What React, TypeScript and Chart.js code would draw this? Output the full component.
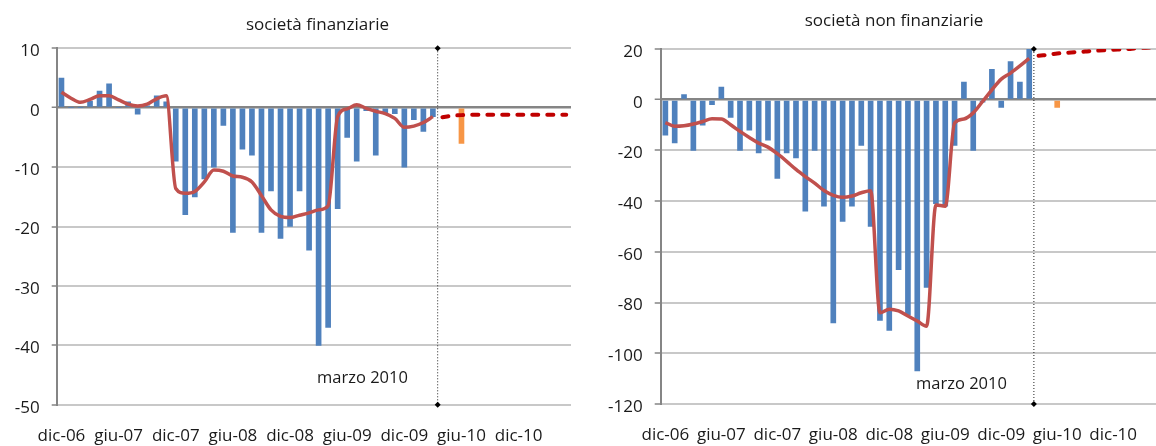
import React, { useEffect, useRef } from 'react';
import { Chart, registerables } from 'chart.js';

Chart.register(...registerables);

const FONT = '"Open Sans", "Noto Sans", sans-serif';

// ---------- categories (monthly, dic-06 .. mag-11) ----------
const months = [
  'dic-06',
  'gen-07', 'feb-07', 'mar-07', 'apr-07', 'mag-07', 'giu-07', 'lug-07', 'ago-07', 'set-07', 'ott-07', 'nov-07', 'dic-07',
  'gen-08', 'feb-08', 'mar-08', 'apr-08', 'mag-08', 'giu-08', 'lug-08', 'ago-08', 'set-08', 'ott-08', 'nov-08', 'dic-08',
  'gen-09', 'feb-09', 'mar-09', 'apr-09', 'mag-09', 'giu-09', 'lug-09', 'ago-09', 'set-09', 'ott-09', 'nov-09', 'dic-09',
  'gen-10', 'feb-10', 'mar-10', 'apr-10', 'mag-10', 'giu-10', 'lug-10', 'ago-10', 'set-10', 'ott-10', 'nov-10', 'dic-10',
  'gen-11', 'feb-11', 'mar-11', 'apr-11', 'mag-11',
];
const tickLabels = ['dic-06', 'giu-07', 'dic-07', 'giu-08', 'dic-08', 'giu-09', 'dic-09', 'giu-10', 'dic-10'];

const lastObservedMonth = 'mar-10';
const forecastStartMonth = 'apr-10';
const highlightMonth = 'giu-10';
const markerText = 'marzo 2010';

// ---------- società finanziarie ----------
const finTitle = 'società finanziarie';
const finBars = [
  5, 0, 0, 1.1, 2.8, 4, 0, 1, -1.1, 0.3, 2, 1,
  -9, -18, -15, -12, -10, -3, -21, -7, -8, -21, -14, -22,
  -20, -14, -24, -40, -37, -17, -5, -9, -0.5, -8, -1, -1,
  -10, -2, -4, -1.5,
];
const finAvg = [
  2.6, 1.6, 0.9, 1.4, 2.0, 2.0, 1.3, 0.6, 0.3, 0.6, 1.5, 2.0,
  -13.6, -14.4, -14.1, -12.5, -10.5, -10.7, -11.5, -11.7, -12.5, -14.8, -17.2, -18.3,
  -18.5, -18.1, -17.7, -17.2, -16.5, -1.5, -0.2, 0.5, -0.1, -0.6, -1.0, -1.8,
  -3.3, -3.1, -2.5, -1.5,
];
const finForecast = [-1.6, -1.35, -1.25, -1.2, -1.2, -1.2, -1.2, -1.2, -1.2, -1.2, -1.2, -1.2, -1.2, -1.2];
const finHighlight = -6;
const finYMin = -50;
const finYMax = 10;
const finYStep = 10;

// ---------- società non finanziarie ----------
const nfTitle = 'società non finanziarie';
const nfBars = [
  -14, -17, 2, -20, -10, -2, 5, -7, -20, -12, -21, -16,
  -31, -21, -23, -44, -20, -42, -88, -48, -42, -18, -50, -87,
  -91, -67, -85, -107, -74, -41, -42, -18, 7, -20, -1, 12,
  -3, 15, 7, 20,
];
const nfAvg = [
  -9, -10.5, -10.3, -9.6, -8.6, -7.5, -7.6, -9.9, -12.5, -14.9, -17.1, -18.7,
  -21.3, -24.3, -27.5, -30.3, -32.9, -35.8, -37.7, -38.5, -38.0, -36.7, -35.9, -84,
  -82.6, -83.3, -85.3, -87.3, -89.3, -41.5, -42, -9.2, -7.6, -5.2, -0.7, 3.9,
  8.1, 10.5, 13.3, 16.3,
];
const nfForecast = [17.3, 17.7, 18.2, 18.5, 18.8, 19.0, 19.3, 19.5, 19.7, 19.9, 20.1, 20.4, 20.6, 20.8];
const nfHighlight = -3;
const nfYMin = -120;
const nfYMax = 20;
const nfYStep = 20;

type PanelProps = {
  left: number;
  width: number;
  height: number;
  bars: number[];
  avg: number[];
  forecast: number[];
  highlight: number;
  yMin: number;
  yMax: number;
  yStep: number;
  axisWidth: number;
  padTop: number;
  padRight: number;
  xHeight: number;
  tickLen: number;
  tickPad: number;
};

function Panel(p: PanelProps) {
  const ref = useRef<HTMLCanvasElement>(null);
  useEffect(() => {
    const obsEnd = months.indexOf(lastObservedMonth);
    const fStart = months.indexOf(forecastStartMonth);
    const hIdx = months.indexOf(highlightMonth);
    const barData = months.map((_, i) => (i < p.bars.length ? p.bars[i] : null));
    const avgData = months.map((_, i) => (i < p.avg.length ? p.avg[i] : null));
    const fcData = months.map((_, i) =>
      i >= fStart && i - fStart < p.forecast.length ? p.forecast[i - fStart] : null
    );
    const hlData = months.map((_, i) => (i === hIdx ? p.highlight : null));
    const boundary = obsEnd + 0.5;

    const chart = new Chart(ref.current as HTMLCanvasElement, {
      type: 'bar',
      data: {
        labels: months,
        datasets: [
          {
            type: 'line',
            label: 'media',
            xAxisID: 'x',
            data: avgData,
            borderColor: '#C0504D',
            borderWidth: 3.5,
            pointRadius: 0,
            cubicInterpolationMode: 'monotone',
            order: 0,
          } as any,
          {
            type: 'line',
            label: 'previsione',
            xAxisID: 'x',
            data: fcData,
            borderColor: '#C00000',
            borderWidth: 4,
            borderDash: [6, 9],
            borderCapStyle: 'round',
            pointRadius: 0,
            tension: 0.3,
            order: 0,
          } as any,
          {
            type: 'line',
            label: 'marzo 2010',
            xAxisID: 'x2',
            data: [
              { x: boundary, y: p.yMax },
              { x: boundary, y: p.yMin },
            ],
            borderColor: '#222',
            borderWidth: 1,
            borderDash: [1, 2],
            pointStyle: 'rectRot',
            pointRadius: 3,
            pointBackgroundColor: '#000',
            pointBorderColor: '#000',
            pointBorderWidth: 0,
            clip: false,
            order: 1,
          } as any,
          {
            type: 'bar',
            label: 'dati',
            xAxisID: 'x',
            data: barData,
            backgroundColor: '#4F81BD',
            grouped: false,
            barThickness: 5,
            order: 2,
          } as any,
          {
            type: 'bar',
            label: 'stima',
            xAxisID: 'x',
            data: hlData,
            backgroundColor: '#F79646',
            grouped: false,
            barThickness: 5,
            order: 2,
          } as any,
        ],
      },
      options: {
        responsive: false,
        animation: false,
        devicePixelRatio: 1,
        layout: { padding: { top: p.padTop, right: p.padRight, bottom: 0, left: 0 } },
        plugins: { legend: { display: false }, tooltip: { enabled: false }, title: { display: false } },
        scales: {
          x: {
            type: 'category',
            offset: true,
            grid: { display: false, drawTicks: true, tickLength: 21, offset: true },
            border: { display: false },
            afterFit: (s: any) => {
              s.height = p.xHeight;
            },
            ticks: {
              autoSkip: false,
              maxRotation: 0,
              minRotation: 0,
              padding: 0,
              color: '#1A1A1A',
              font: { family: FONT, size: 17 },
              callback: (_v: any, i: number) => (tickLabels.includes(months[i]) ? months[i] : ''),
            },
          },
          x2: {
            type: 'linear',
            display: false,
            offset: false,
            grid: { offset: false },
            min: -0.5,
            max: months.length - 0.5,
          },
          y: {
            min: p.yMin,
            max: p.yMax,
            afterFit: (s: any) => {
              s.width = p.axisWidth;
            },
            ticks: {
              stepSize: p.yStep,
              padding: p.tickPad,
              labelOffset: 3,
              color: '#1A1A1A',
              font: { family: FONT, size: 17 },
            },
            grid: {
              color: (c: any) => (c.tick && c.tick.value === 0 ? '#858585' : '#C8C8C8'),
              lineWidth: (c: any) => (c.tick && c.tick.value === 0 ? 2.5 : 2),
              drawTicks: true,
              tickLength: p.tickLen,
              tickColor: '#858585',
              tickWidth: 1.5,
            },
            border: { display: true, color: '#858585', width: 2 },
          },
        },
      } as any,
    });
    return () => chart.destroy();
  }, []);
  return (
    <canvas
      ref={ref}
      width={p.width}
      height={p.height}
      style={{ position: 'absolute', left: p.left, top: 0, width: p.width, height: p.height }}
    />
  );
}

const textStyle = (left: number, top: number, size: number, width: number, align: 'left' | 'center') => ({
  position: 'absolute' as const,
  left,
  top,
  width,
  textAlign: align,
  fontFamily: FONT,
  fontSize: size,
  lineHeight: `${size}px`,
  color: '#1A1A1A',
  whiteSpace: 'nowrap' as const,
});

export default function App() {
  return (
    <div
      style={{
        position: 'fixed',
        left: 0,
        top: 0,
        width: 1156,
        height: 446,
        overflow: 'hidden',
        background: '#fff',
      }}
    >
      <Panel
        left={0}
        width={580}
        height={446}
        bars={finBars}
        avg={finAvg}
        forecast={finForecast}
        highlight={finHighlight}
        yMin={finYMin}
        yMax={finYMax}
        yStep={finYStep}
        axisWidth={56.7}
        padTop={48.3}
        padRight={9}
        xHeight={41.3}
        tickLen={5}
        tickPad={12}
      />
      <Panel
        left={580}
        width={590}
        height={446}
        bars={nfBars}
        avg={nfAvg}
        forecast={nfForecast}
        highlight={nfHighlight}
        yMin={nfYMin}
        yMax={nfYMax}
        yStep={nfYStep}
        axisWidth={80.7}
        padTop={49}
        padRight={5.5}
        xHeight={42}
        tickLen={6}
        tickPad={12}
      />
      <div style={textStyle(217.5, 15, 17, 200, 'center')}>{finTitle}</div>
      <div style={textStyle(794, 10.5, 17, 200, 'center')}>{nfTitle}</div>
      <div style={textStyle(317, 368.5, 16.5, 120, 'left')}>{markerText}</div>
      <div style={textStyle(916, 374.5, 16.5, 120, 'left')}>{markerText}</div>
    </div>
  );
}
